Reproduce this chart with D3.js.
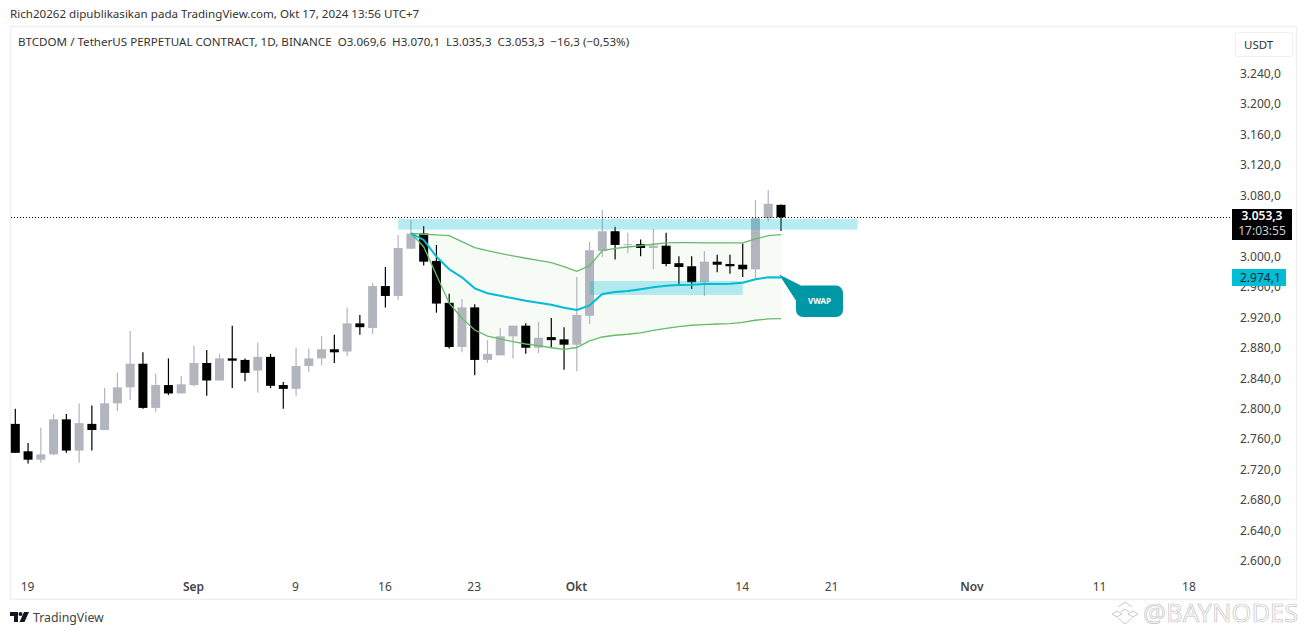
<!DOCTYPE html>
<html>
<head>
<meta charset="utf-8">
<title>BTCDOM / TetherUS</title>
<script src="https://cdn.jsdelivr.net/npm/d3@7"></script>
<style>
  html, body { margin: 0; padding: 0; background: #fff; overflow: hidden; }
  svg { display: block; }
  text { font-family: "Noto Sans", sans-serif; }
</style>
</head>
<body>
<div id="chart"></div>
<script>
// Daily bars, starting 2024-08-18
const firstDay = '2024-08-18';
const opens = [2782,2746,2735,2742,2788,2747,2782,2774,2809,2830,2861,2803,2833,2822,2833,2862,2839,2868,2866,2852,2870,2833,2828,2858,2868,2880,2877,2914,2908,2963,2950,3012,3032,2996,2941,2883,2935,2866,2872,2897,2911,2882,2896,2893,2886,2924,3009,3035,3017,3018,3013,3016,2993,2989,2968,2995,2992,2991,2985,3052,3069.6];
const highs = [2802,2757,2777,2795,2795,2809,2806,2829,2849,2904,2876,2848,2868,2845,2885,2879,2874,2911,2868,2889,2874,2837,2882,2881,2897,2899,2935,2925,2967,2988,3030,3050,3042,3017,2953,2946,2939,2892,2908,2911,2914,2916,2921,2909,2975,3021,3063,3041,3033,3024,3038,3033,3002,3002,3009,3004,3004,3019,3076,3089,3070.1];
const lows = [2744,2730,2731,2741,2744,2731,2747,2774,2799,2813,2802,2798,2820,2822,2831,2819,2839,2829,2838,2823,2829,2802,2819,2850,2859,2862,2871,2899,2900,2935,2945,3012,2990,2928,2881,2876,2846,2862,2872,2868,2874,2875,2883,2853,2851,2913,3001,2998,3006,3002,2985,2989,2964,2959,2950,2981,2979,2975,2974,3048,3035.3];
const closes = [2744,2735,2742,2788,2747,2783,2774,2809,2830,2861,2803,2833,2822,2834,2862,2839,2868,2865,2849,2870,2832,2828,2858,2868,2880,2876,2914,2909,2963,2950,3013,3032,2995,2940,2883,2935,2866,2874,2897,2911,2882,2895,2892,2886,2925,3010,3035,3017,3018,3013,3016,2992,2988,2968,2995,2991,2989,2985,3052,3071,3053.3];

// Anchored VWAP with its bands, from 2024-09-18 to the last bar
const vwapStart = '2024-09-18';
const vwap = [3032.3,3023.5,3001.6,2985,2974.5,2960,2953.5,2950.3,2946.9,2943.8,2941.2,2938.5,2934.6,2931.6,2937.7,2952.6,2955.2,2956.5,2958.8,2961.4,2963.5,2964.4,2964.8,2965.7,2965.7,2966.1,2967.4,2971.9,2974.5,2974.1];
const upperBand = [3032.3,3031,3030.1,3029.1,3021.3,3013.4,3009.4,3006,3002.5,2999.5,2996.8,2993.7,2988.4,2982.4,2989.8,3009.4,3012.6,3014.3,3016,3017.9,3019.6,3020,3020,3019.6,3019.6,3019.6,3019.6,3024.8,3029.1,3030.4];
const lowerBand = [3032.3,3014.7,2977.5,2940.4,2920.7,2905.3,2897.4,2893.5,2889.9,2886.9,2884.7,2882,2879.9,2882.3,2890.9,2896.1,2898.4,2899.7,2901.4,2904.9,2907.5,2909.6,2911.5,2912.3,2913.2,2913.6,2915.4,2918.1,2919.8,2920.2];

// Drawn zones: [start, end, top price, bottom price]
const zones = [
  ['2024-09-17', '2024-10-23', 3051, 3037],
  ['2024-10-02', '2024-10-14', 2969.6, 2951.3]
];

// 3.040,0 sits under the last price label in the reference, so it is not listed
const priceTicks = [2600,2640,2680,2720,2760,2800,2840,2880,2920,2960,3000,3080,3120,3160,3200,3240];
const timeTickDates = ['2024-08-19','2024-09-01','2024-09-09','2024-09-16','2024-09-23','2024-10-01','2024-10-14','2024-10-21','2024-11-01','2024-11-11','2024-11-18'];
const timeTickLabels = ['19','Sep','9','16','23','Okt','14','21','Nov','11','18'];
const monthLabels = ['Sep','Okt','Nov'];

const headerTop = 'Rich20262 dipublikasikan pada TradingView.com, Okt 17, 2024 13:56 UTC+7';
const headerLegend = 'BTCDOM / TetherUS PERPETUAL CONTRACT, 1D, BINANCE  O3.069,6  H3.070,1  L3.035,3  C3.053,3  −16,3 (−0,53%)';
const lastPrice = 3053.3;
const lastVwap = 2974.1;
const countdown = '17:03:55';

const width = 1307;
const height = 635;
const day = s => new Date(s + 'T00:00:00Z');

const bars = opens.map((o, i) => ({
  date: d3.utcDay.offset(day(firstDay), i),
  open: o, high: highs[i], low: lows[i], close: closes[i]
}));
const bandRows = vwap.map((v, i) => ({
  date: d3.utcDay.offset(day(vwapStart), i),
  vwap: v, upper: upperBand[i], lower: lowerBand[i]
}));

const x = d3.scaleUtc()
  .domain([day(firstDay), day('2024-10-17')])
  .range([15.3, 781]);
const y = d3.scaleLinear()
  .domain([2600, 3240])
  .range([562.5, 75.1]);

const idLocale = d3.formatLocale({ decimal: ',', thousands: '.', grouping: [3], currency: ['', ''] });
const priceFormat = idLocale.format(',.1f');

const svg = d3.select('#chart').append('svg')
  .attr('width', width)
  .attr('height', height);

// Frame
svg.append('rect')
  .attr('x', 10.5).attr('y', 26.5)
  .attr('width', 1286).attr('height', 573)
  .attr('fill', 'none').attr('stroke', '#efefef').attr('stroke-width', 1.5);

svg.append('text').attr('x', 10).attr('y', 17.5)
  .attr('font-size', 11.6).attr('fill', '#333').text(headerTop);
svg.append('text').attr('x', 18).attr('y', 46).attr('xml:space', 'preserve')
  .style('white-space', 'pre')
  .attr('font-size', 11.6).attr('fill', '#333').text(headerLegend);

// Band fill
const area = d3.area()
  .x(d => x(d.date))
  .y0(d => y(d.lower))
  .y1(d => y(d.upper));
svg.append('path').datum(bandRows)
  .attr('d', area).attr('fill', '#f6fbf6');

// Candles
const candle = svg.append('g').selectAll('g')
  .data(bars)
  .join('g')
  .attr('fill', d => d.close >= d.open ? '#b2b5be' : '#000')
  .attr('stroke', d => d.close >= d.open ? '#b2b5be' : '#000');
candle.append('line')
  .attr('x1', d => x(d.date)).attr('x2', d => x(d.date))
  .attr('y1', d => y(d.high)).attr('y2', d => y(d.low))
  .attr('stroke-width', 1.2);
candle.append('rect')
  .attr('x', d => x(d.date) - 4.5)
  .attr('width', 9)
  .attr('y', d => y(Math.max(d.open, d.close)))
  .attr('height', d => Math.max(1, Math.abs(y(d.open) - y(d.close))))
  .attr('stroke', 'none');

// Zones
svg.append('g').selectAll('rect')
  .data(zones)
  .join('rect')
  .attr('x', d => x(day(d[0])))
  .attr('width', d => x(day(d[1])) - x(day(d[0])))
  .attr('y', d => y(d[2]))
  .attr('height', d => y(d[3]) - y(d[2]))
  .attr('fill', '#00bcd4')
  .attr('opacity', 0.28);

// VWAP and bands
const lineOf = key => d3.line().x(d => x(d.date)).y(d => y(d[key]));
for (const key of ['upper', 'lower']) {
  svg.append('path').datum(bandRows)
    .attr('d', lineOf(key))
    .attr('fill', 'none').attr('stroke', '#66bb6a').attr('stroke-width', 1.3);
}
svg.append('path').datum(bandRows)
  .attr('d', lineOf('vwap'))
  .attr('fill', 'none').attr('stroke', '#00bcd4').attr('stroke-width', 2);

// Last price line
svg.append('line')
  .attr('x1', 11).attr('x2', 1232)
  .attr('y1', Math.round(y(lastPrice)) + 0.5).attr('y2', Math.round(y(lastPrice)) + 0.5)
  .attr('stroke', '#000').attr('stroke-dasharray', '1 2');

// Callout
const tipX = x(day('2024-10-17')) - 2;
const tipY = y(lastVwap) - 3;
const callout = svg.append('g').attr('transform', `translate(${tipX},${tipY})`);
callout.append('path')
  .attr('d', 'M0,0 L22,11 L26,40 Z')
  .attr('fill', '#0097a7');
callout.append('rect')
  .attr('x', 17).attr('y', 11).attr('width', 47).attr('height', 31.5).attr('rx', 7)
  .attr('fill', '#0097a7');
callout.append('text')
  .attr('x', 40.5).attr('y', 29.5).attr('text-anchor', 'middle')
  .attr('font-size', 8).attr('font-weight', 700).attr('fill', '#fff')
  .text('VWAP');

// Price axis
const yAxis = svg.append('g')
  .attr('transform', 'translate(1240,0)')
  .call(d3.axisRight(y).tickValues(priceTicks).tickSize(0).tickPadding(0).tickFormat(priceFormat));
yAxis.select('.domain').remove();
yAxis.selectAll('text')
  .attr('dy', '0.32em').attr('y', -1.5)
  .attr('font-size', 12).attr('fill', '#444')
  .style('font-family', '"Noto Sans", sans-serif');

// Time axis
const xAxis = svg.append('g')
  .attr('transform', 'translate(-1,582)')
  .call(d3.axisBottom(x)
    .tickValues(timeTickDates.map(day))
    .tickSize(0).tickPadding(0)
    .tickFormat((d, i) => timeTickLabels[i]));
xAxis.select('.domain').remove();
xAxis.selectAll('text')
  .attr('font-size', 12).attr('fill', '#444')
  .attr('font-weight', (d, i) => monthLabels.includes(timeTickLabels[i]) ? 600 : 400)
  .style('font-family', '"Noto Sans", sans-serif');

// Price labels
svg.append('rect')
  .attr('x', 1232).attr('y', 209).attr('width', 60).attr('height', 31)
  .attr('fill', '#000');
svg.append('text').attr('x', 1262).attr('y', 220).attr('text-anchor', 'middle')
  .attr('font-size', 12).attr('font-weight', 600).attr('fill', '#fff')
  .text(priceFormat(lastPrice));
svg.append('text').attr('x', 1262).attr('y', 235).attr('text-anchor', 'middle')
  .attr('font-size', 12).attr('fill', '#ccc').text(countdown);
svg.append('rect')
  .attr('x', 1232).attr('y', 269).attr('width', 54).attr('height', 17)
  .attr('fill', '#00bcd4');
svg.append('text').attr('x', 1240).attr('y', 282)
  .attr('font-size', 12).attr('fill', '#0b2a33').text(priceFormat(lastVwap));

// Currency button
svg.append('rect')
  .attr('x', 1235.5).attr('y', 32.5).attr('width', 57).attr('height', 24).attr('rx', 3)
  .attr('fill', '#fff').attr('stroke', '#eee');
svg.append('text').attr('x', 1244).attr('y', 49)
  .attr('font-size', 11.5).attr('fill', '#333').text('USDT');

// TradingView mark
const logo = svg.append('g').attr('transform', 'translate(10,612)').attr('fill', '#131722');
logo.append('path').attr('d', 'M0,0 H8 V10 H4 V4 H0 Z');
logo.append('circle').attr('cx', 10.5).attr('cy', 2).attr('r', 2);
logo.append('path').attr('d', 'M14,0 H19 L14.5,10 H9.5 Z');
svg.append('text').attr('x', 33).attr('y', 622)
  .attr('font-size', 12.3).attr('fill', '#444').text('TradingView');

// Watermark
const mark = svg.append('g')
  .attr('transform', 'translate(1125,614)')
  .attr('fill', 'none').attr('stroke', '#c9c9c9').attr('stroke-width', 1);
mark.append('path').attr('d', 'M-7,-7 L0,-12 L7,-7 M-13,0 L-8,-3 L-3,0 L-8,3 Z M13,0 L8,-3 L3,0 L8,3 Z M-7,4 L0,10 L7,4 M-4,-2 L0,-5 L4,-2');
svg.append('text')
  .attr('x', 1143).attr('y', 622)
  .attr('font-size', 25.6).attr('fill', '#fff').attr('stroke', '#c4c4c4').attr('stroke-width', 0.7)
  .text('@BAYNODES');
</script>
</body>
</html>
